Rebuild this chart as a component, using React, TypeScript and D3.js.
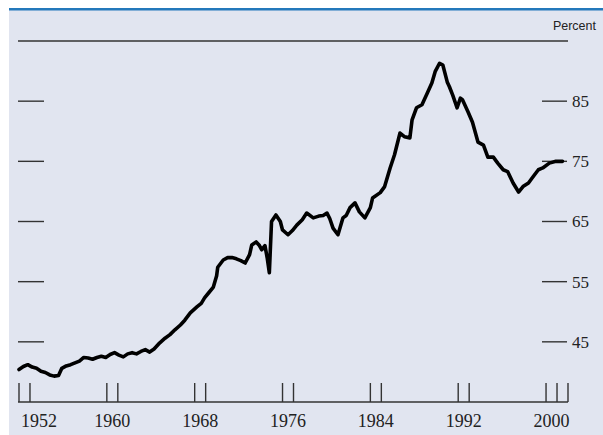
import React, { useRef, useEffect } from 'react';
import * as d3 from 'd3';

// decimal year, percent
const years = [
  1952.0, 1952.4, 1952.8, 1953.2, 1953.6, 1954.0, 1954.4, 1954.8, 1955.2, 1955.6,
  1955.9, 1956.3, 1956.7, 1957.1, 1957.5, 1957.9, 1958.3, 1958.7, 1959.1, 1959.5,
  1959.9, 1960.3, 1960.7, 1961.1, 1961.5, 1961.9, 1962.3, 1962.7, 1963.1, 1963.5,
  1963.9, 1964.3, 1964.8, 1965.3, 1965.75, 1966.2, 1966.7, 1967.1, 1967.6, 1968.2,
  1968.6, 1968.9, 1969.3, 1969.7, 1970.0, 1970.1, 1970.6, 1971.0, 1971.4, 1971.8,
  1972.2, 1972.6, 1973.0, 1973.2, 1973.6, 1973.9, 1974.1, 1974.4, 1974.6, 1974.8,
  1975.0, 1975.4, 1975.8, 1976.0, 1976.5, 1976.9, 1977.3, 1977.8, 1978.2, 1978.8,
  1979.3, 1979.7, 1980.05, 1980.3, 1980.6, 1981.05, 1981.5, 1981.8, 1982.15, 1982.6,
  1983.0, 1983.5, 1984.0, 1984.2, 1984.9, 1985.3, 1985.8, 1986.2, 1986.7, 1987.1,
  1987.6, 1987.8, 1988.2, 1988.7, 1989.2, 1989.6, 1989.9, 1990.3, 1990.6, 1991.0,
  1991.2, 1991.5, 1991.9, 1992.2, 1992.4, 1992.9, 1993.3, 1993.8, 1994.3, 1994.7,
  1995.2, 1995.6, 1996.1, 1996.5, 1997.0, 1997.5, 1997.9, 1998.4, 1998.8, 1999.3,
  1999.7, 2000.3, 2000.9, 2001.5,
];
const values = [
  40.4, 40.9, 41.2, 40.8, 40.6, 40.1, 39.9, 39.5, 39.3, 39.4,
  40.6, 41.0, 41.2, 41.5, 41.8, 42.4, 42.3, 42.1, 42.4, 42.6,
  42.4, 42.9, 43.2, 42.8, 42.5, 43.0, 43.2, 43.0, 43.4, 43.7,
  43.3, 43.8, 44.8, 45.6, 46.2, 47.0, 47.8, 48.6, 49.8, 50.8,
  51.4, 52.3, 53.2, 54.1, 56.0, 57.4, 58.6, 59.0, 59.0, 58.8,
  58.5, 58.1, 59.5, 61.1, 61.6, 61.0, 60.3, 61.0, 59.0, 56.5,
  65.0, 66.1, 65.0, 63.6, 62.8, 63.5, 64.4, 65.3, 66.4, 65.6,
  65.9, 66.0, 66.4, 65.5, 63.9, 62.8, 65.6, 66.0, 67.3, 68.1,
  66.6, 65.6, 67.3, 68.9, 69.8, 70.8, 73.9, 76.1, 79.7, 79.1,
  78.9, 81.9, 83.9, 84.4, 86.4, 88.0, 89.9, 91.3, 91.0, 88.2,
  87.4, 86.0, 83.9, 85.5, 85.2, 83.2, 81.5, 78.2, 77.7, 75.7,
  75.7, 74.7, 73.6, 73.3, 71.4, 69.9, 70.8, 71.4, 72.4, 73.6,
  73.9, 74.7, 75.0, 75.0,
];

const yearLabels = [1952, 1960, 1968, 1976, 1984, 1992, 2000];
const yearTicks = [1952, 1953, 1960, 1961, 1968, 1969, 1976, 1977, 1984, 1985, 1992, 1993, 2000, 2001, 2002];
const percentTicks = [45, 55, 65, 75, 85];

const App = () => {
  const svgRef = useRef<SVGSVGElement>(null);

  useEffect(() => {
    const svg = d3.select(svgRef.current);
    svg.selectAll('*').remove();

    const W = 603;
    const H = 435;

    const x = d3.scaleLinear().domain([1952, 2002]).range([19, 568]);
    const y = d3.scaleLinear().domain([35, 95]).range([402, 41]);

    // panel
    svg.append('rect').attr('x', 0).attr('y', 0).attr('width', W).attr('height', H).attr('fill', '#ffffff');
    svg.append('rect').attr('x', 9).attr('y', 10).attr('width', W - 9).attr('height', H - 10).attr('fill', '#e1e5f0');
    svg.append('rect').attr('x', 9).attr('y', 8).attr('width', W - 9).attr('height', 2.5).attr('fill', '#2479bb');

    // top rule
    svg
      .append('line')
      .attr('x1', x(1952) - 1)
      .attr('x2', x(2002))
      .attr('y1', y(95))
      .attr('y2', y(95))
      .attr('stroke', '#333')
      .attr('stroke-width', 1.4);

    svg
      .append('text')
      .attr('x', 596)
      .attr('y', 30)
      .attr('text-anchor', 'end')
      .attr('font-family', 'Liberation Sans, Arial, sans-serif')
      .attr('font-size', 12.5)
      .attr('fill', '#222')
      .text('Percent');

    // y ticks, both sides
    const yt = svg.append('g').attr('stroke', '#333').attr('stroke-width', 1.4);
    percentTicks.forEach((v) => {
      yt.append('line').attr('x1', 18).attr('x2', 44).attr('y1', y(v)).attr('y2', y(v));
      yt.append('line').attr('x1', 542).attr('x2', 567).attr('y1', y(v)).attr('y2', y(v));
    });
    svg
      .append('g')
      .selectAll('text')
      .data(percentTicks)
      .join('text')
      .attr('x', 572)
      .attr('y', (d) => y(d))
      .attr('dy', '0.35em')
      .attr('font-family', 'Liberation Serif, Times New Roman, serif')
      .attr('font-size', 17)
      .attr('fill', '#222')
      .text((d) => d);

    // x axis
    svg
      .append('line')
      .attr('x1', x(1952) - 1)
      .attr('x2', x(2002))
      .attr('y1', y(35))
      .attr('y2', y(35))
      .attr('stroke', '#333')
      .attr('stroke-width', 1.4);
    svg
      .append('g')
      .selectAll('line')
      .data(yearTicks)
      .join('line')
      .attr('x1', (d) => x(d))
      .attr('x2', (d) => x(d))
      .attr('y1', 383)
      .attr('y2', y(35))
      .attr('stroke', '#333')
      .attr('stroke-width', 1.4);
    svg
      .append('g')
      .selectAll('text')
      .data(yearLabels)
      .join('text')
      .attr('x', (d, i) => (i === 0 ? x(d) + 2 : x(d + 0.5)))
      .attr('y', 427)
      .attr('text-anchor', (d, i) => (i === 0 ? 'start' : 'middle'))
      .attr('font-family', 'Liberation Serif, Times New Roman, serif')
      .attr('font-size', 18)
      .attr('fill', '#222')
      .text((d) => d);

    // series
    const line = d3
      .line<number>()
      .x((d, i) => x(years[i]))
      .y((d) => y(d));
    svg
      .append('path')
      .datum(values)
      .attr('fill', 'none')
      .attr('stroke', '#000')
      .attr('stroke-width', 3.6)
      .attr('stroke-linejoin', 'round')
      .attr('stroke-linecap', 'round')
      .attr('d', line);
  }, []);

  return (
    <svg
      ref={svgRef}
      width={603}
      height={435}
      style={{ position: 'absolute', left: 0, top: 0, display: 'block' }}
    />
  );
};

export default App;
